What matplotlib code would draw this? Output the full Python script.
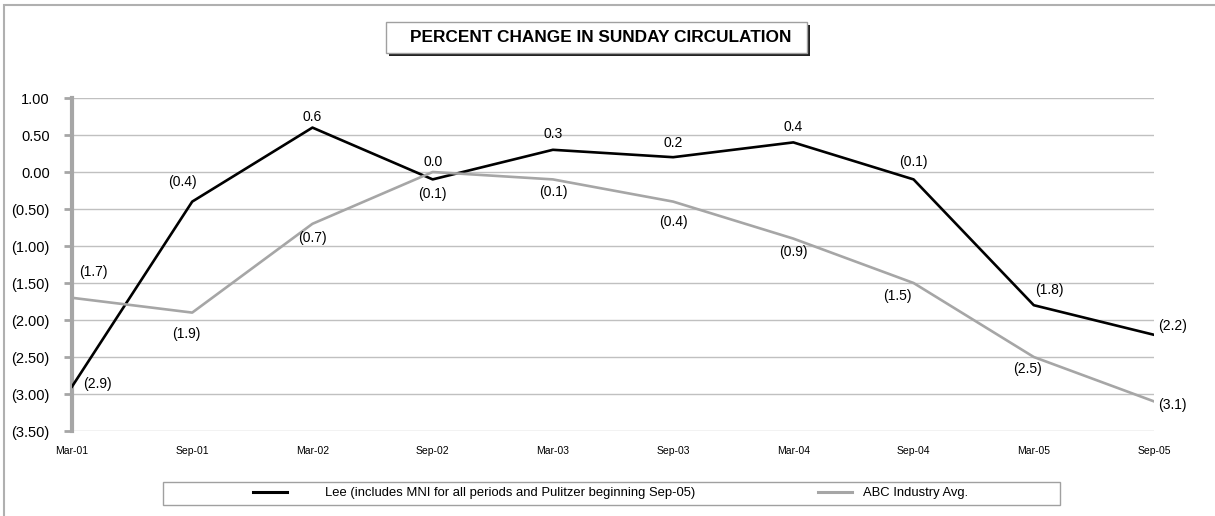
import matplotlib
matplotlib.use("Agg")
import matplotlib.pyplot as plt
from matplotlib.patches import Rectangle
from matplotlib.lines import Line2D

categories = ["Mar-01", "Sep-01", "Mar-02", "Sep-02", "Mar-03", "Sep-03",
              "Mar-04", "Sep-04", "Mar-05", "Sep-05"]
lee = [-2.9, -0.4, 0.6, -0.1, 0.3, 0.2, 0.4, -0.1, -1.8, -2.2]
abc = [-1.7, -1.9, -0.7, 0.0, -0.1, -0.4, -0.9, -1.5, -2.5, -3.1]
yticks = [1.0, 0.5, 0.0, -0.5, -1.0, -1.5, -2.0, -2.5, -3.0, -3.5]
lee_name = "Lee (includes MNI for all periods and Pulitzer beginning Sep-05)"
abc_name = "ABC Industry Avg."
title = "PERCENT CHANGE IN SUNDAY CIRCULATION"

plt.rcParams['font.family'] = ['Liberation Sans', 'DejaVu Sans']

W, H = 1215, 516
fig = plt.figure(figsize=(W / 100, H / 100), dpi=100)

def fx(px):
    return px / W

def fy(py):
    return 1 - py / H

ax = fig.add_axes([fx(72), fy(431), fx(1154) - fx(72), fy(98) - fy(431)])

x = list(range(len(categories)))
GRAY = "#a6a6a6"
ax.plot(x, lee, color="black", lw=1.9, zorder=3)
ax.plot(x, abc, color=GRAY, lw=1.9, zorder=3)

ax.set_xlim(0, len(categories) - 1)
ax.set_ylim(-3.5, 1.0)
ax.set_yticks(yticks)

def fmt(v, nd=2):
    s = f"{abs(v):.{nd}f}"
    return f"({s})" if v < -1e-9 else s

ax.set_yticklabels([fmt(v) for v in yticks], fontsize=10.5)
ax.set_xticks(x)
ax.set_xticklabels(categories, fontsize=7.5)
ax.tick_params(axis='x', length=0, pad=11)
ax.tick_params(axis='y', length=6, width=2, color=GRAY, pad=10)
ax.grid(axis='y', color="#c0c0c0", lw=1)
ax.set_axisbelow(True)
for s in ['top', 'right', 'bottom']:
    ax.spines[s].set_visible(False)
ax.spines['left'].set_color(GRAY)
ax.spines['left'].set_linewidth(3)

# data labels: offsets in pixels
lee_off = [(25, 3), (-10, 20), (0, 11), (0, -15), (0, 16), (0, 14), (0, 15),
           (0, 17), (16, 15), (19, 9)]
abc_off = [(21, 26), (-6, -21), (0, -14), (0, 10), (0, -13), (0, -20),
           (0, -13), (-16, -13), (-6, -12), (18, -4)]
for i in x:
    ax.annotate(fmt(lee[i], 1), (i, lee[i]), xytext=lee_off[i],
                textcoords='offset pixels', ha='center', va='center',
                fontsize=10, zorder=4)
    ax.annotate(fmt(abc[i], 1), (i, abc[i]), xytext=abc_off[i],
                textcoords='offset pixels', ha='center', va='center',
                fontsize=10, zorder=4)

# outer border
fig.patches.append(Rectangle((fx(4), fy(H + 10)), fx(W + 20), fy(5) - fy(H + 10),
                             transform=fig.transFigure, fill=False,
                             edgecolor="#b0b0b0", lw=1.5))

# title box with shadow
fig.patches.append(Rectangle((fx(389), fy(56)), fx(807) - fx(386), fy(22) - fy(53),
                             transform=fig.transFigure, facecolor="#222222",
                             edgecolor="none", zorder=1))
fig.patches.append(Rectangle((fx(386), fy(53)), fx(807) - fx(386), fy(22) - fy(53),
                             transform=fig.transFigure, facecolor="white",
                             edgecolor="#a0a0a0", lw=1, zorder=2))
fig.text(fx(601), fy(37.5), title, ha='center', va='center', fontsize=12.4,
         fontweight='bold', zorder=3)

# legend box
fig.patches.append(Rectangle((fx(163), fy(505)), fx(1060) - fx(163), fy(482) - fy(505),
                             transform=fig.transFigure, fill=False,
                             edgecolor="#a0a0a0", lw=1))
h_lee = Line2D([], [], color="black", lw=2.2)
h_abc = Line2D([], [], color=GRAY, lw=2.2)
prop = {'size': 9.4}
fig.legend([h_lee], [lee_name], frameon=False, loc='center left',
           bbox_to_anchor=(fx(253), fy(493)), prop=prop,
           handlelength=2.6, handletextpad=2.9, borderaxespad=0, borderpad=0)
fig.legend([h_abc], [abc_name], frameon=False, loc='center left',
           bbox_to_anchor=(fx(818), fy(493)), prop=prop,
           handlelength=2.6, handletextpad=0.85, borderaxespad=0, borderpad=0)

fig.savefig("out.png", dpi=100)
